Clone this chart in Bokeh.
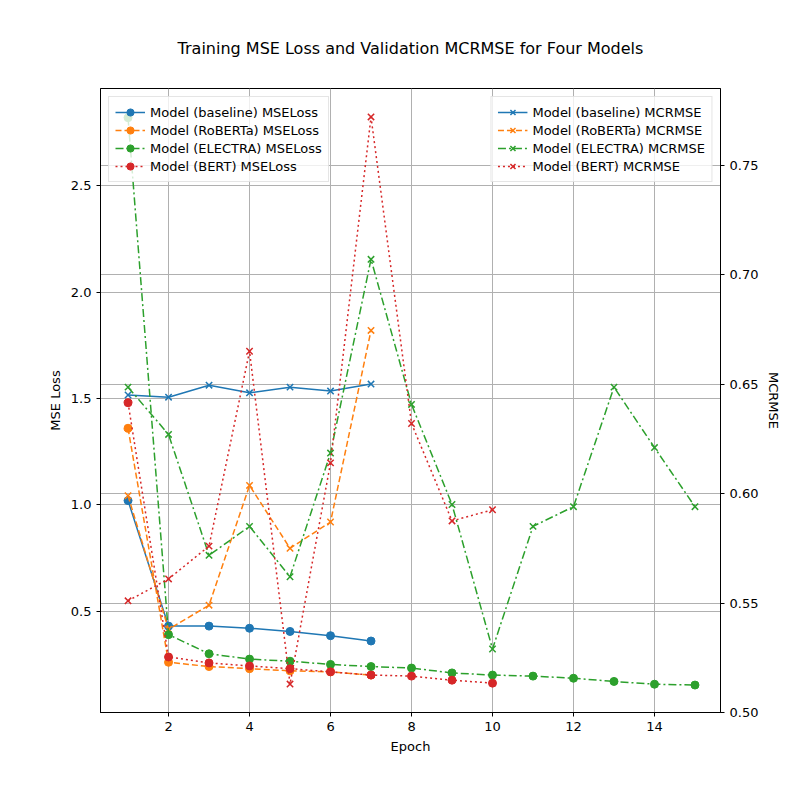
from bokeh.plotting import figure
from bokeh.models import Range1d, LinearAxis, Legend, LegendItem, FixedTicker, PrintfTickFormatter, Grid
from bokeh.embed import file_html
from bokeh.resources import INLINE

models = ["Model (baseline)", "Model (RoBERTa)", "Model (ELECTRA)", "Model (BERT)"]
colors = ["#1f77b4", "#ff7f0e", "#2ca02c", "#d62728"]
dashes = ["solid", "6 3", "8 3 2 3", "2 3"]

mse_loss = [
    [1.02, 0.43, 0.43, 0.42, 0.405, 0.385, 0.36],
    [1.36, 0.26, 0.24, 0.23, 0.22, 0.215, 0.20],
    [2.82, 0.39, 0.30, 0.275, 0.265, 0.25, 0.24, 0.233, 0.21, 0.20, 0.195, 0.185, 0.17, 0.157, 0.153],
    [1.48, 0.285, 0.257, 0.243, 0.23, 0.215, 0.20, 0.195, 0.176, 0.162],
]
mcrmse = [
    [0.645, 0.644, 0.6495, 0.646, 0.6486, 0.6468, 0.650],
    [0.599, 0.538, 0.549, 0.6037, 0.575, 0.587, 0.6745],
    [0.6486, 0.627, 0.5718, 0.585, 0.562, 0.6185, 0.707, 0.6407, 0.595, 0.529, 0.585, 0.594, 0.6486, 0.621, 0.594],
    [0.551, 0.561, 0.576, 0.665, 0.513, 0.614, 0.772, 0.632, 0.5875, 0.5926],
]

FONT = "DejaVu Sans"
p = figure(width=784, height=784, output_backend="svg", toolbar_location=None,
           x_range=Range1d(0.32, 15.63), y_range=Range1d(0.024, 2.957),
           min_border_left=100, min_border_right=64, min_border_top=88, min_border_bottom=72)
p.extra_y_ranges = {"r": Range1d(0.5, 0.785)}
p.title.text = "Training MSE Loss and Validation MCRMSE for Four Models"
p.title.align = "center"
p.title.text_font = FONT
p.title.text_font_size = "16px"
p.title.text_font_style = "normal"
p.title.text_color = "black"
p.title.standoff = 62
p.outline_line_color = "black"

raxis = LinearAxis(y_range_name="r", axis_label="MCRMSE")
p.add_layout(raxis, "right")
p.add_layout(Grid(dimension=1, ticker=raxis.ticker, y_range_name="r", grid_line_color="#b0b0b0"))

p.xaxis.axis_label = "Epoch"
p.yaxis[0].axis_label = "MSE Loss"
p.xaxis.ticker = FixedTicker(ticks=[2, 4, 6, 8, 10, 12, 14])
p.yaxis[0].ticker = FixedTicker(ticks=[0.5, 1.0, 1.5, 2.0, 2.5])
p.yaxis[0].formatter = PrintfTickFormatter(format="%.1f")
raxis.ticker = FixedTicker(ticks=[0.50, 0.55, 0.60, 0.65, 0.70, 0.75])
raxis.formatter = PrintfTickFormatter(format="%.2f")
p.grid.grid_line_color = "#b0b0b0"
for ax in [p.xaxis[0], p.yaxis[0], raxis]:
    ax.major_label_text_font = FONT
    ax.major_label_text_font_size = "13px"
    ax.major_label_text_color = "black"
    ax.axis_label_text_font = FONT
    ax.axis_label_text_font_size = "13px"
    ax.axis_label_text_font_style = "normal"
    ax.axis_label_text_color = "black"
    ax.axis_line_color = "black"
    ax.major_tick_line_color = "black"
    ax.minor_tick_line_color = None
    ax.major_tick_out = 4
    ax.major_tick_in = 0

left_items, right_items = [], []
for i, m in enumerate(models):
    xs = list(range(1, len(mse_loss[i]) + 1))
    l1 = p.line(xs, mse_loss[i], color=colors[i], line_dash=dashes[i], line_width=1.5)
    c1 = p.scatter(xs, mse_loss[i], color=colors[i], size=8)
    left_items.append(LegendItem(label=m + " MSELoss", renderers=[l1, c1]))
    xs2 = list(range(1, len(mcrmse[i]) + 1))
    l2 = p.line(xs2, mcrmse[i], color=colors[i], line_dash=dashes[i], line_width=1.5, y_range_name="r")
    c2 = p.scatter(xs2, mcrmse[i], color=colors[i], marker="x", size=9, line_width=1.5, y_range_name="r")
    right_items.append(LegendItem(label=m + " MCRMSE", renderers=[l2, c2]))

for items, loc in [(left_items, "top_left"), (right_items, "top_right")]:
    lg = Legend(items=items, location=loc, label_text_font=FONT, label_text_font_size="13px",
                label_text_color="black",
                border_line_color="#cccccc", background_fill_alpha=0.8, spacing=0,
                padding=6, margin=8, glyph_width=30, label_height=18, glyph_height=18)
    p.add_layout(lg)

open("out.html", "w").write(file_html(p, INLINE))
